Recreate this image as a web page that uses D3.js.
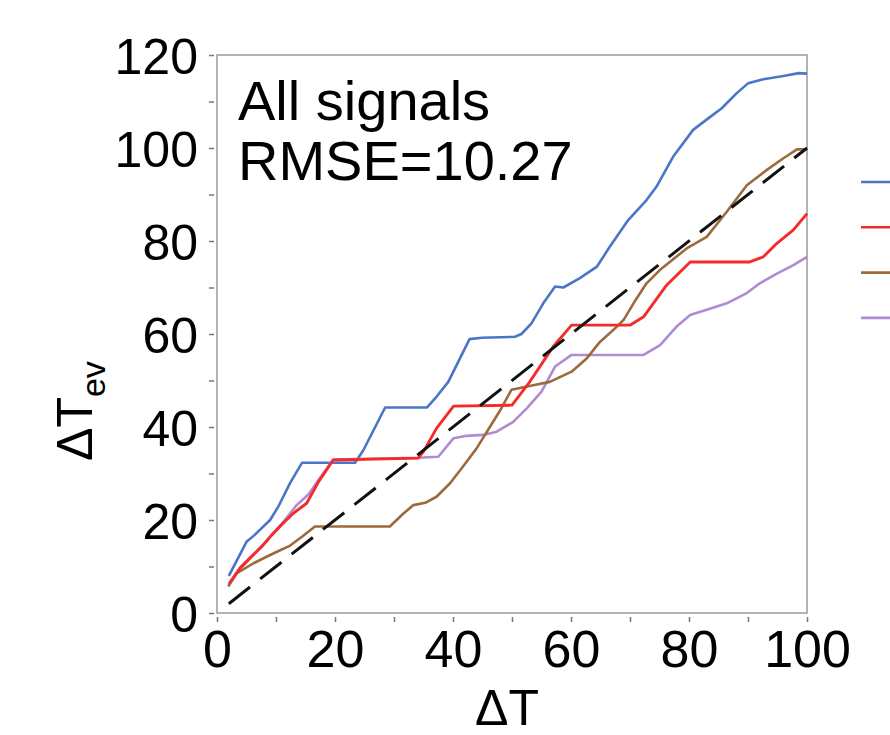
<!DOCTYPE html>
<html>
<head>
<meta charset="utf-8">
<script src="https://cdn.jsdelivr.net/npm/d3@7"></script>
<style>
  body { margin: 0; background: #fff; }
  svg { display: block; font-family: "Liberation Sans", Arial, sans-serif; }
</style>
</head>
<body>
<div id="chart" style="width:890px;height:735px"></div>
<script>
// readings from the figure (ΔT vs estimated ΔT)
const seriesNames = ["s1", "s2", "s3", "s4"];
const seriesColors = ["#4a76c6", "#f52b2b", "#9b6b3c", "#b08ad2"];

const bluePts = [[2,8],[5,15.3],[6.4,16.8],[9,20],[10.4,22.9],[12.4,28],[14.4,32.3],[23.4,32.3],[24.8,35],[28.5,44.2],[35.6,44.2],[37.2,46.5],[39.2,49.7],[42.8,58.9],[44.9,59.2],[50.5,59.4],[51.6,60],[53.3,62.3],[55.3,66.6],[57.3,70.2],[58.7,70],[61.5,72],[64.4,74.5],[66.6,78.8],[69.7,84.5],[72.8,88.8],[74.5,91.7],[77.3,98.1],[80.7,103.9],[83.6,106.7],[85.5,108.5],[88.1,111.8],[90,113.9],[92.6,114.8],[96,115.5],[98.6,116.1],[100,116]];
const redPts = [[2.1,6.4],[3.9,9.6],[5.6,11.8],[7.6,14.3],[9.3,16.8],[11.2,19.3],[12.9,21.4],[15.2,23.6],[17.2,28.2],[19.7,32.9],[34.1,33.3],[35,34.7],[37.2,39.7],[40.1,44.5],[50,44.7],[53,49.7],[57,57.3],[60.1,61.9],[70,61.9],[72.3,63.7],[76.2,70.5],[80.2,75.5],[90.3,75.5],[92.6,76.6],[94.9,79.5],[97.7,82.4],[100,85.9]];
const brownPts = [[1.9,5.7],[3.3,8.5],[6.2,10.7],[8.4,12.1],[10.7,13.5],[12.4,14.5],[14.4,16.4],[16.6,18.6],[29.3,18.6],[31.6,21.4],[33.3,23.2],[35.3,23.7],[37.2,25],[39.5,27.9],[41.7,31.5],[44,35.4],[46.3,40.1],[48,43.6],[49.9,48],[53.6,49],[56.4,49.7],[60.1,51.9],[62.7,54.8],[64.9,58.3],[67.2,60.9],[68.9,63],[70.6,66.6],[72.8,70.9],[75.1,73.8],[79.6,78.4],[83,80.9],[86.4,86.3],[89.8,92],[93.2,95.3],[96,97.8],[98.3,99.7],[100,99.7]];
const purplePts = [[2,6.2],[3.9,9.8],[5.6,11.9],[7.6,14.4],[9.3,16.8],[11.2,19.5],[13.5,23.2],[15.5,25.5],[17.2,28.6],[19.7,33],[34.1,33.4],[37.5,33.6],[40.1,37.6],[42.3,38.1],[45.1,38.3],[47.4,39],[50.2,41.1],[52.5,44],[55,47.6],[57.3,53],[60.1,55.5],[72.3,55.5],[75.1,57.6],[77.9,61.6],[80.2,64.1],[83,65.2],[86.4,66.6],[89.8,68.8],[92,70.9],[94.9,73],[97.7,74.8],[100,76.6]];
const idealPts = [[2,2],[100,100]];

const xTicks = [0,10,20,30,40,50,60,70,80,90,100];
const yTicks = [0,10,20,30,40,50,60,70,80,90,100,110,120];

const width = 890, height = 735;
const margin = { top: 55, right: 83, bottom: 122, left: 217 };

const svg = d3.select("#chart").append("svg")
    .attr("width", width)
    .attr("height", height);

const x = d3.scaleLinear().domain([0, 100]).range([margin.left, width - margin.right]);
const y = d3.scaleLinear().domain([0, 120]).range([height - margin.bottom, margin.top]);

// frame
svg.append("rect")
    .attr("x", x(0)).attr("y", y(120))
    .attr("width", x(100) - x(0)).attr("height", y(0) - y(120))
    .attr("fill", "none").attr("stroke", "#9a9a9a").attr("stroke-width", 1.5);

// axes (ticks sit a little off the frame)
const yAxis = svg.append("g")
    .attr("transform", `translate(${x(0) - 3},0)`)
    .call(d3.axisLeft(y).tickValues(yTicks).tickSize(5).tickSizeOuter(0).tickPadding(11)
        .tickFormat(d => d % 20 === 0 ? d : ""));
yAxis.select(".domain").remove();
yAxis.selectAll("line").attr("stroke", "#777").attr("stroke-width", 1.5);
yAxis.selectAll("text").attr("fill", "#000").style("font-size", "50px").attr("dy", "0.36em");

const xAxis = svg.append("g")
    .attr("transform", `translate(0,${y(0) + 4})`)
    .call(d3.axisBottom(x).tickValues(xTicks).tickSize(5).tickSizeOuter(0).tickPadding(8)
        .tickFormat(d => d % 20 === 0 ? d : ""));
xAxis.select(".domain").remove();
xAxis.selectAll("line").attr("stroke", "#777").attr("stroke-width", 1.5);
xAxis.selectAll("text").attr("fill", "#000").style("font-size", "52px").attr("dy", "0.72em");

// lines
const line = d3.line().x(d => x(d[0])).y(d => y(d[1]));
const allSeries = [bluePts, purplePts, brownPts, redPts];
const order = [0, 3, 2, 1];
svg.selectAll("path.series")
    .data(allSeries)
    .join("path")
    .attr("class", "series")
    .attr("d", line)
    .attr("fill", "none")
    .attr("stroke", (d, i) => seriesColors[order[i]])
    .attr("stroke-width", (d, i) => order[i] === 1 ? 2.9 : 2.6)
    .attr("stroke-linejoin", "round");

svg.append("path")
    .datum(idealPts)
    .attr("d", line)
    .attr("fill", "none")
    .attr("stroke", "#111")
    .attr("stroke-width", 3)
    .attr("stroke-dasharray", "27,13");

// annotation
svg.append("text").attr("x", 238).attr("y", 120).style("font-size", "56px").text("All signals");
svg.append("text").attr("x", 238).attr("y", 180).style("font-size", "56px").text("RMSE=10.27");

// axis titles
svg.append("text")
    .attr("x", 507).attr("y", 725)
    .attr("text-anchor", "middle").style("font-size", "50px").text("ΔT");

const yl = svg.append("text")
    .attr("transform", `translate(92,461) rotate(-90)`)
    .attr("text-anchor", "start").style("font-size", "50px");
yl.append("tspan").text("ΔT");
yl.append("tspan").attr("dy", 13).style("font-size", "34px").text("ev");

// legend: only the line samples are inside the picture
const legend = svg.append("g").attr("transform", `translate(861, 182)`);
seriesNames.forEach((n, i) => {
    legend.append("line")
        .attr("class", "legend-" + n)
        .attr("x1", 0).attr("x2", 40)
        .attr("y1", i * 45.3).attr("y2", i * 45.3)
        .attr("stroke", seriesColors[i]).attr("stroke-width", 2.6);
});
</script>
</body>
</html>
